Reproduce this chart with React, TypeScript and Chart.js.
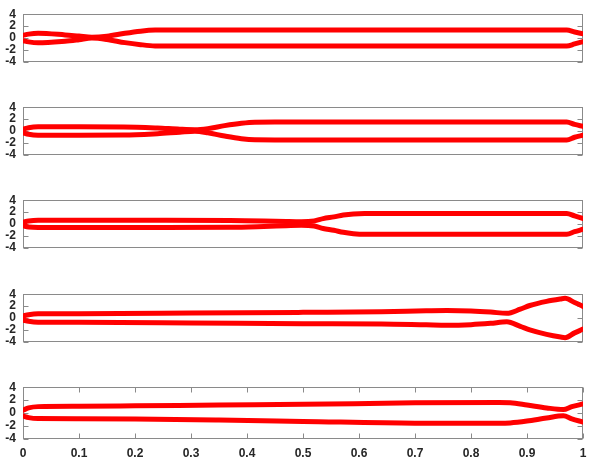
import React, { useEffect, useRef } from "react";
import { Chart, registerables } from "chart.js";

Chart.register(...registerables);

// ---- tick values / labels ----
const xTicks = [0, 0.1, 0.2, 0.3, 0.4, 0.5, 0.6, 0.7, 0.8, 0.9, 1];
const xTickLabels = ["0", "0.1", "0.2", "0.3", "0.4", "0.5", "0.6", "0.7", "0.8", "0.9", "1"];
const yTicks = [-4, -2, 0, 2, 4];
const yTickLabels = ["-4", "-2", "0", "2", "4"];

// ---- panel 1 ----
const x1 = [0, 0.01, 0.027, 0.075, 0.1, 0.123, 0.15, 0.182, 0.21, 0.236, 0.26, 0.5, 0.971, 0.985, 1];
const up1 = [0.45, 0.65, 0.8, 0.52, 0.32, 0.14, 0.3, 0.8, 1.15, 1.33, 1.35, 1.35, 1.35, 1.0, 0.7];
const lo1 = [-0.45, -0.65, -0.8, -0.53, -0.28, -0.02, -0.25, -0.78, -1.12, -1.33, -1.35, -1.35, -1.35, -1.0, -0.6];

// ---- panel 2 ----
const x2 = [0, 0.01, 0.027, 0.1, 0.18, 0.24, 0.28, 0.307, 0.33, 0.36, 0.39, 0.414, 0.45, 0.7, 0.971, 0.985, 1];
const up2 = [0.3, 0.55, 0.7, 0.7, 0.68, 0.5, 0.3, 0.22, 0.4, 0.9, 1.3, 1.48, 1.5, 1.5, 1.5, 1.1, 0.78];
const lo2 = [-0.3, -0.55, -0.7, -0.7, -0.68, -0.45, -0.2, -0.05, -0.3, -0.85, -1.3, -1.48, -1.5, -1.5, -1.5, -1.05, -0.72];

// ---- panel 3 ----
const x3 = [0, 0.01, 0.027, 0.2, 0.37, 0.43, 0.47, 0.497, 0.52, 0.536, 0.555, 0.572, 0.59, 0.61, 0.7, 0.971, 0.985, 1];
const up3 = [0.3, 0.5, 0.62, 0.62, 0.6, 0.52, 0.42, 0.38, 0.52, 0.9, 1.2, 1.5, 1.7, 1.78, 1.78, 1.78, 1.35, 0.92];
const lo3 = [-0.3, -0.5, -0.58, -0.58, -0.56, -0.42, -0.28, -0.2, -0.35, -0.75, -1.05, -1.4, -1.62, -1.72, -1.72, -1.72, -1.3, -0.88];

// ---- panel 4 ----
const x4 = [0, 0.01, 0.027, 0.1, 0.3, 0.5, 0.64, 0.72, 0.757, 0.8, 0.835, 0.864, 0.888, 0.905, 0.935, 0.96, 0.968, 0.985, 1];
const up4 = [0.35, 0.55, 0.7, 0.72, 0.82, 0.95, 1.05, 1.2, 1.25, 1.18, 1.0, 0.78, 1.48, 2.1, 2.8, 3.2, 3.3, 2.6, 1.95];
const lo4 = [-0.35, -0.55, -0.7, -0.72, -0.82, -0.95, -1.0, -1.15, -1.22, -1.12, -0.9, -0.65, -1.4, -2.0, -2.75, -3.2, -3.3, -2.5, -1.87];

// ---- panel 5 ----
const x5 = [0, 0.01, 0.027, 0.1, 0.2, 0.35, 0.5, 0.7, 0.85, 0.87, 0.9, 0.935, 0.965, 0.98, 1];
const up5 = [0.45, 0.8, 1.0, 1.05, 1.12, 1.25, 1.36, 1.58, 1.65, 1.6, 1.25, 0.8, 0.55, 1.0, 1.4];
const lo5 = [-0.45, -0.7, -0.85, -0.87, -0.92, -1.08, -1.28, -1.55, -1.57, -1.52, -1.23, -0.75, -0.42, -0.9, -1.38];

const panels = [
  { x: x1, up: up1, lo: lo1 },
  { x: x2, up: up2, lo: lo2 },
  { x: x3, up: up3, lo: lo3 },
  { x: x4, up: up4, lo: lo4 },
  { x: x5, up: up5, lo: lo5 },
];

// layout
const W = 598;
const AXIS_W = 23;
const RIGHT_PAD = 15;
const PLOT_H = 56;
const PAD_T = 10;
const panelTops = [10, 103, 196, 290, 383];
const X_AXIS_H = 25;

const FONT = { family: "'Liberation Sans', Arial, sans-serif", size: 12, weight: "bold" as const };
const TEXT_COLOR = "#262626";
const FRAME_COLOR = "#8a8a8a";
const LINE_COLOR = "#ff0000";

const framePlugin = {
  id: "frame",
  beforeDatasetsDraw(chart: any, _args: any, opts: any) {
    const { ctx, chartArea: a, scales } = chart;
    ctx.save();
    ctx.strokeStyle = FRAME_COLOR;
    ctx.lineWidth = 1;
    const L = Math.round(a.left) + 0.5;
    const R = Math.round(a.right) - 0.5;
    const T = Math.round(a.top) + 0.5;
    const B = Math.round(a.bottom) - 0.5;
    ctx.strokeRect(L, T, R - L, B - T);
    const tl = 5;
    ctx.beginPath();
    for (const v of yTicks) {
      const y = Math.round(scales.y.getPixelForValue(v)) + 0.5;
      ctx.moveTo(L, y);
      ctx.lineTo(L + tl, y);
      ctx.moveTo(R, y);
      ctx.lineTo(R - tl, y);
    }
    if (opts && opts.xTicks) {
      for (const v of xTicks) {
        const x = Math.round(scales.x.getPixelForValue(v)) + 0.5;
        ctx.moveTo(x, B);
        ctx.lineTo(x, B - tl);
        ctx.moveTo(x, T);
        ctx.lineTo(x, T + tl);
      }
    }
    ctx.stroke();
    ctx.restore();
  },
};

function Panel({ index }: { index: number }) {
  const ref = useRef<HTMLCanvasElement | null>(null);
  const isLast = index === panels.length - 1;
  const height = isLast ? PAD_T + PLOT_H + X_AXIS_H + 2 : PAD_T + PLOT_H + PAD_T;
  const top = panelTops[index] - PAD_T;

  useEffect(() => {
    const p = panels[index];
    const mk = (ys: number[]) => ({
      data: p.x.map((xv, j) => ({ x: xv, y: ys[j] })),
      borderColor: LINE_COLOR,
      backgroundColor: LINE_COLOR,
      borderWidth: 5,
      pointRadius: 0,
      fill: false,
      cubicInterpolationMode: "monotone" as const,
      borderCapStyle: "round" as const,
      borderJoinStyle: "round" as const,
    });
    const chart = new Chart(ref.current as HTMLCanvasElement, {
      type: "line",
      data: { datasets: [mk(p.up), mk(p.lo)] },
      options: {
        animation: false,
        responsive: false,
        maintainAspectRatio: false,
        devicePixelRatio: 1,
        layout: { padding: { left: 0, right: RIGHT_PAD, top: PAD_T, bottom: isLast ? 2 : PAD_T } },
        plugins: {
          legend: { display: false },
          tooltip: { enabled: false },
          // @ts-ignore
          frame: { xTicks: isLast },
        },
        scales: {
          x: {
            type: "linear",
            min: 0,
            max: 1,
            display: isLast,
            grid: { display: false, drawTicks: false },
            border: { display: false },
            ticks: {
              padding: 7,
              font: FONT,
              color: TEXT_COLOR,
              maxRotation: 0,
              autoSkip: false,
              callback: (_v: any, i: number) => xTickLabels[i],
            },
            afterBuildTicks: (s: any) => {
              s.ticks = xTicks.map((v) => ({ value: v }));
            },
            afterFit: (s: any) => {
              s.height = isLast ? X_AXIS_H : 0;
            },
          },
          y: {
            type: "linear",
            min: -4,
            max: 4,
            grid: { display: false, drawTicks: false },
            border: { display: false },
            ticks: {
              padding: 7,
              font: FONT,
              color: TEXT_COLOR,
              autoSkip: false,
              callback: (_v: any, i: number) => yTickLabels[i],
            },
            afterBuildTicks: (s: any) => {
              s.ticks = yTicks.map((v) => ({ value: v }));
            },
            afterFit: (s: any) => {
              s.width = AXIS_W;
            },
          },
        },
      },
      plugins: [framePlugin],
    });
    return () => chart.destroy();
  }, [index]);

  return (
    <canvas
      ref={ref}
      width={W}
      height={height}
      style={{ position: "absolute", left: 0, top, width: W, height, display: "block" }}
    />
  );
}

export default function App() {
  return (
    <div
      style={{
        position: "fixed",
        left: 0,
        top: 0,
        width: W,
        height: 468,
        background: "#ffffff",
        overflow: "hidden",
      }}
    >
      {panels.map((_, i) => (
        <Panel key={i} index={i} />
      ))}
    </div>
  );
}
